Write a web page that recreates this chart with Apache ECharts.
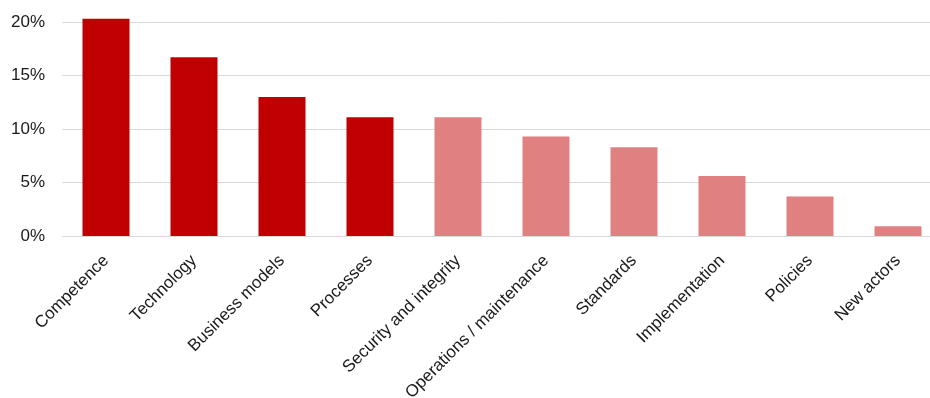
<!DOCTYPE html>
<html>
<head>
<meta charset="utf-8">
<script src="https://cdn.jsdelivr.net/npm/echarts@6/dist/echarts.min.js"></script>
<style>html,body{margin:0;padding:0;background:#fff}#c{width:930px;height:398px}</style>
</head>
<body>
<div id="c"></div>
<script>
const categories = ["Competence","Technology","Business models","Processes","Security and integrity","Operations / maintenance","Standards","Implementation","Policies","New actors"];
const values = [20.3,16.7,13.0,11.1,11.1,9.3,8.3,5.6,3.7,0.9];
const highlighted = [true,true,true,true,false,false,false,false,false,false];
const yTicks = [0,5,10,15,20];

const chart = echarts.init(document.getElementById('c'));
const FONT = '"Liberation Sans Narrow", "Liberation Sans", Arial, sans-serif';
chart.setOption({
  animation: false,
  grid: {left: 62, right: -12, top: 22, bottom: 162, containLabel: false, outerBoundsMode: 'none'},
  xAxis: {
    type: 'category',
    data: categories,
    axisLine: {show: false},
    axisTick: {show: false},
    axisLabel: {rotate: 45, interval: 0, margin: 22, color: '#1a1a1a', fontSize: 17, fontFamily: FONT}
  },
  yAxis: {
    type: 'value',
    min: yTicks[0], max: yTicks[yTicks.length-1], interval: 5,
    axisLine: {show: false},
    axisTick: {show: false},
    splitLine: {lineStyle: {color: '#d9d9d9', width: 1}},
    axisLabel: {formatter: '{value}%', color: '#1a1a1a', fontSize: 17, fontFamily: FONT, margin: 17}
  },
  series: [{
    type: 'bar',
    barWidth: 47,
    clip: false,
    data: values.map((v, i) => ({value: v, itemStyle: {color: highlighted[i] ? '#C00000' : '#E08080'}}))
  }]
});
</script>
</body>
</html>
